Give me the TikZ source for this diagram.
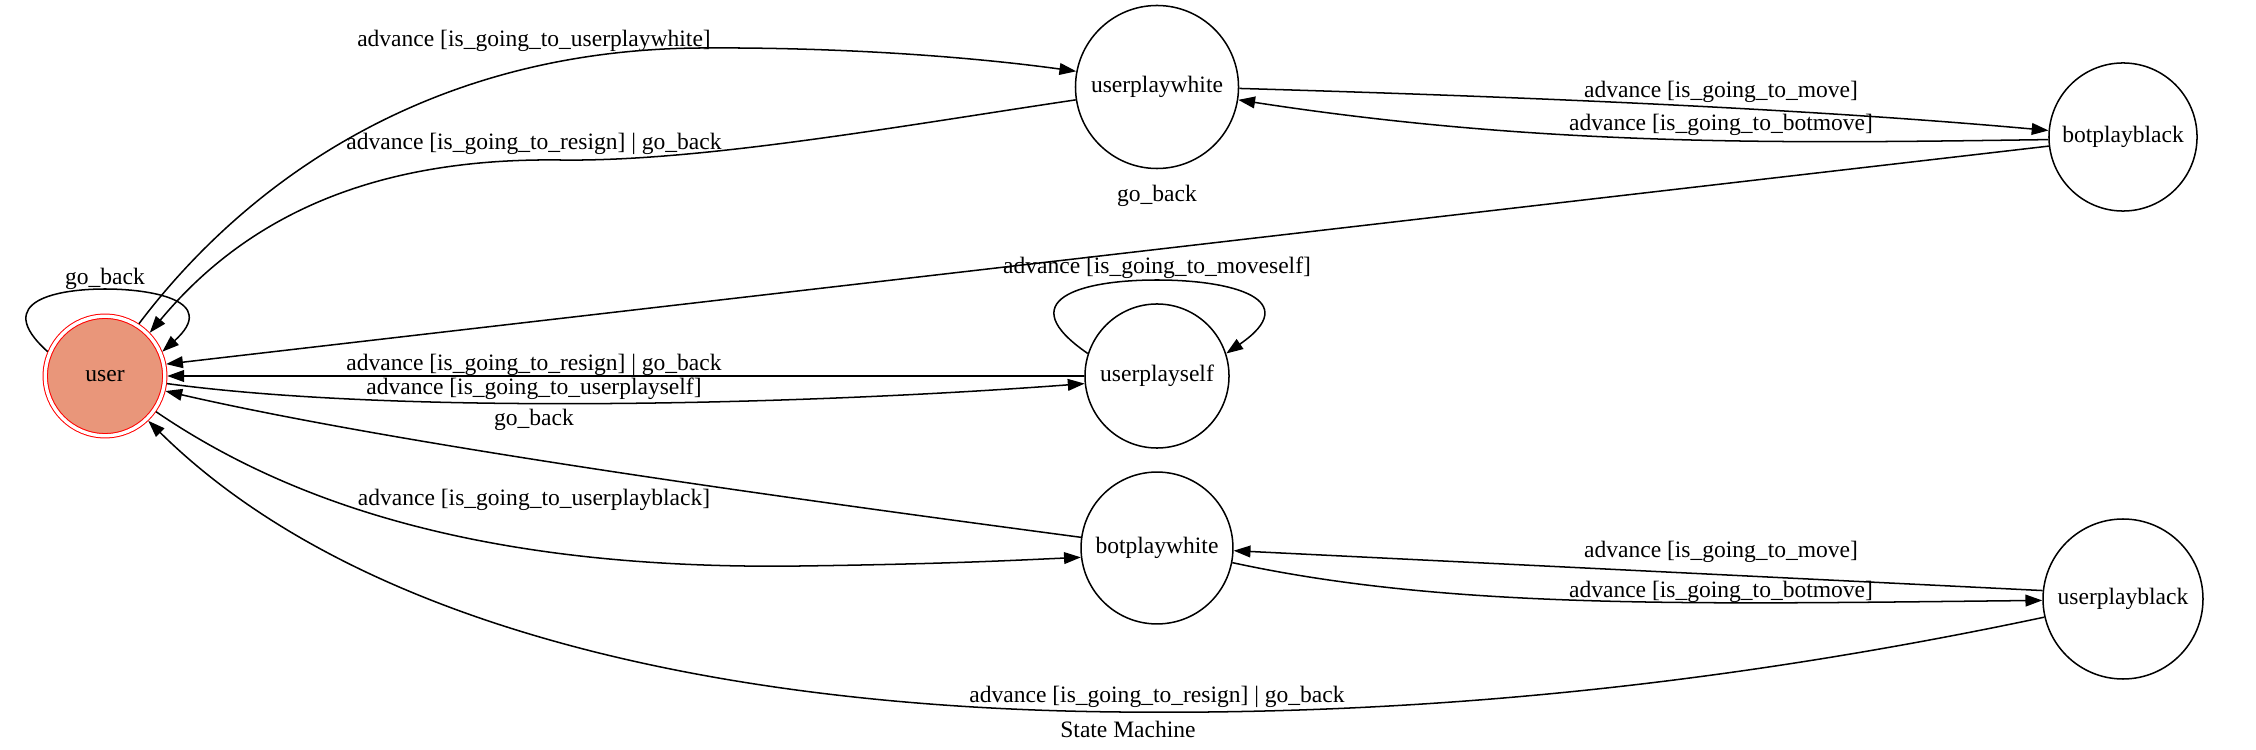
\documentclass[tikz,border=0pt]{standalone}
\usepackage{fontspec}
\setmainfont{Liberation Serif}
\usetikzlibrary{arrows.meta}
\definecolor{darksalmon}{RGB}{233,150,122}

\begin{document}
\begin{tikzpicture}[x=0.595pt,y=-0.595pt,font=\fontsize{14}{16}\selectfont,
  state/.style={draw,circle,line width=0.9pt,inner sep=0pt},
  trans/.style={line width=0.9pt,-{Triangle[length=10pt,width=7pt]}},
  lbl/.style={inner sep=0pt}]
\useasboundingbox (0,0) rectangle (2256,750);
% states
\node[circle,fill=darksalmon,draw=red,line width=0.6pt,double=white,double distance=2pt,minimum size=71.1pt,inner sep=0pt,outer sep=1.5pt] (user) at (105,376) {user};
\node[state,minimum size=97pt] (userplaywhite) at (1157,87) {userplaywhite};
\node[state,minimum size=85.7pt] (userplayself) at (1157,376) {userplayself};
\node[state,minimum size=90.4pt] (botplaywhite) at (1157,548) {botplaywhite};
\node[state,minimum size=88.1pt] (botplayblack) at (2123,137) {botplayblack};
\node[state,minimum size=95.2pt] (userplayblack) at (2123,599) {userplayblack};
% transitions
\draw[trans] (user.57) .. controls (240,190) and (420,50) .. (700,48) .. controls (850,47) and (980,58) .. (userplaywhite.169);
\draw[trans] (userplaywhite.189) .. controls (900,126) and (700,162) .. (560,160) .. controls (400,158) and (260,200) .. (user.44);
\draw[trans] (userplaywhite.-1) .. controls (1500,96) and (1800,108) .. (botplayblack.175);
\draw[trans] (botplayblack.182) .. controls (1800,143) and (1550,148) .. (userplaywhite.-9);
\draw[trans] (botplayblack.187) -- (user.11);
\draw[trans] (user.157) .. controls (-10,300) and (60,289) .. (105,289) .. controls (150,289) and (220,300) .. (user.23);
\draw[trans] (userplayself.162) .. controls (1010,300) and (1080,280) .. (1157,280) .. controls (1234,280) and (1304,300) .. (userplayself.18);
\draw[trans] (userplayself.180) -- (user.0);
\draw[trans] (user.-7) .. controls (400,415) and (800,405) .. (userplayself.186);
\draw[trans] (botplaywhite.172) .. controls (800,500) and (400,445) .. (user.-14);
\draw[trans] (user.-35) .. controls (300,510) and (500,570) .. (800,566) .. controls (950,564) and (1020,560) .. (botplaywhite.187);
\draw[trans] (userplayblack.174) -- (botplaywhite.-2);
\draw[trans] (botplaywhite.-11) .. controls (1450,610) and (1700,604) .. (userplayblack.181);
\draw[trans] (userplayblack.193) .. controls (1700,690) and (1400,715) .. (1120,712) .. controls (700,708) and (350,620) .. (user.-46);
% labels
\node[lbl] (l1) at (534,41) {advance [is\_going\_to\_userplaywhite]};
\node[lbl] (l2) at (534,144) {advance [is\_going\_to\_resign] | go\_back};
\node[lbl] (l3) at (1721,92) {advance [is\_going\_to\_move]};
\node[lbl] (l4) at (1721,125) {advance [is\_going\_to\_botmove]};
\node[lbl] (l5) at (1157,196) {go\_back};
\node[lbl] (l6) at (105,279) {go\_back};
\node[lbl] (l7) at (1157,268) {advance [is\_going\_to\_moveself]};
\node[lbl] (l8) at (534,365) {advance [is\_going\_to\_resign] | go\_back};
\node[lbl] (l9) at (534,389) {advance [is\_going\_to\_userplayself]};
\node[lbl] (l10) at (534,420) {go\_back};
\node[lbl] (l11) at (534,500) {advance [is\_going\_to\_userplayblack]};
\node[lbl] (l12) at (1721,552) {advance [is\_going\_to\_move]};
\node[lbl] (l13) at (1721,592) {advance [is\_going\_to\_botmove]};
\node[lbl] (l14) at (1157,697) {advance [is\_going\_to\_resign] | go\_back};
\node[lbl] (title) at (1128,729) {State Machine};
\end{tikzpicture}
\end{document}
